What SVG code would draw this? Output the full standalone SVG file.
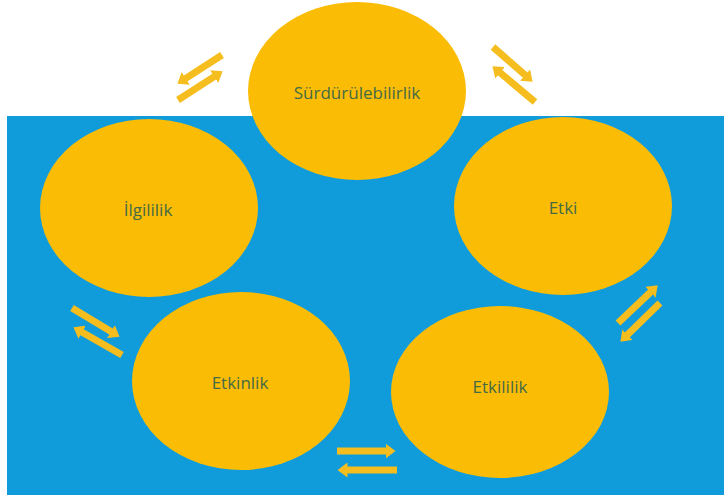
<svg xmlns="http://www.w3.org/2000/svg" width="724" height="495" viewBox="0 0 724 495">
  <style>
    .node ellipse { fill: #FBBC05; }
    .node text { font-family: "Open Sans", "Noto Sans", sans-serif; font-size: 17px; fill: #456b45; text-anchor: middle; dominant-baseline: central; }
    .arr line { stroke: #F5BD1D; stroke-width: 7; stroke-linecap: butt; marker-end: url(#head); }
  </style>
  <defs>
    <marker id="head" viewBox="0 0 10 15" markerWidth="10" markerHeight="15" refX="0.5" refY="7.5" orient="auto" markerUnits="userSpaceOnUse">
      <path d="M0,0 L10,7.5 L0,15 z" fill="#F5BD1D"/>
    </marker>
  </defs>
  <rect x="0" y="0" width="724" height="495" fill="#ffffff"/>
  <rect x="7" y="116" width="717" height="379" fill="#109CDB"/>

  <g id="connectors" class="arr">
    <line x1="222" y1="55" x2="185.4" y2="78.6"/>
    <line x1="178" y1="100" x2="214.6" y2="76.4"/>
    <line x1="493" y1="47" x2="525.5" y2="75.4"/>
    <line x1="535" y1="102" x2="499.7" y2="72.4"/>
    <line x1="618" y1="323" x2="650.8" y2="291.9"/>
    <line x1="660" y1="303" x2="627.2" y2="335"/>
    <line x1="72" y1="308" x2="111.4" y2="331.8"/>
    <line x1="122" y1="355" x2="81.7" y2="332"/>
    <line x1="337" y1="451" x2="386" y2="451"/>
    <line x1="397" y1="470" x2="347" y2="470"/>
  </g>

  <g id="node-surdurulebilirlik" class="node">
    <ellipse cx="357" cy="91" rx="109" ry="89"/>
    <text x="357" y="92">Sürdürülebilirlik</text>
  </g>
  <g id="node-ilgililik" class="node">
    <ellipse cx="149" cy="208" rx="109" ry="89"/>
    <text x="148" y="209">İlgililik</text>
  </g>
  <g id="node-etki" class="node">
    <ellipse cx="563" cy="206" rx="109" ry="89"/>
    <text x="563" y="207">Etki</text>
  </g>
  <g id="node-etkinlik" class="node">
    <ellipse cx="241" cy="381" rx="109" ry="89"/>
    <text x="240" y="382">Etkinlik</text>
  </g>
  <g id="node-etkililik" class="node">
    <ellipse cx="500" cy="392" rx="109" ry="86"/>
    <text x="500" y="386">Etkililik</text>
  </g>
</svg>
